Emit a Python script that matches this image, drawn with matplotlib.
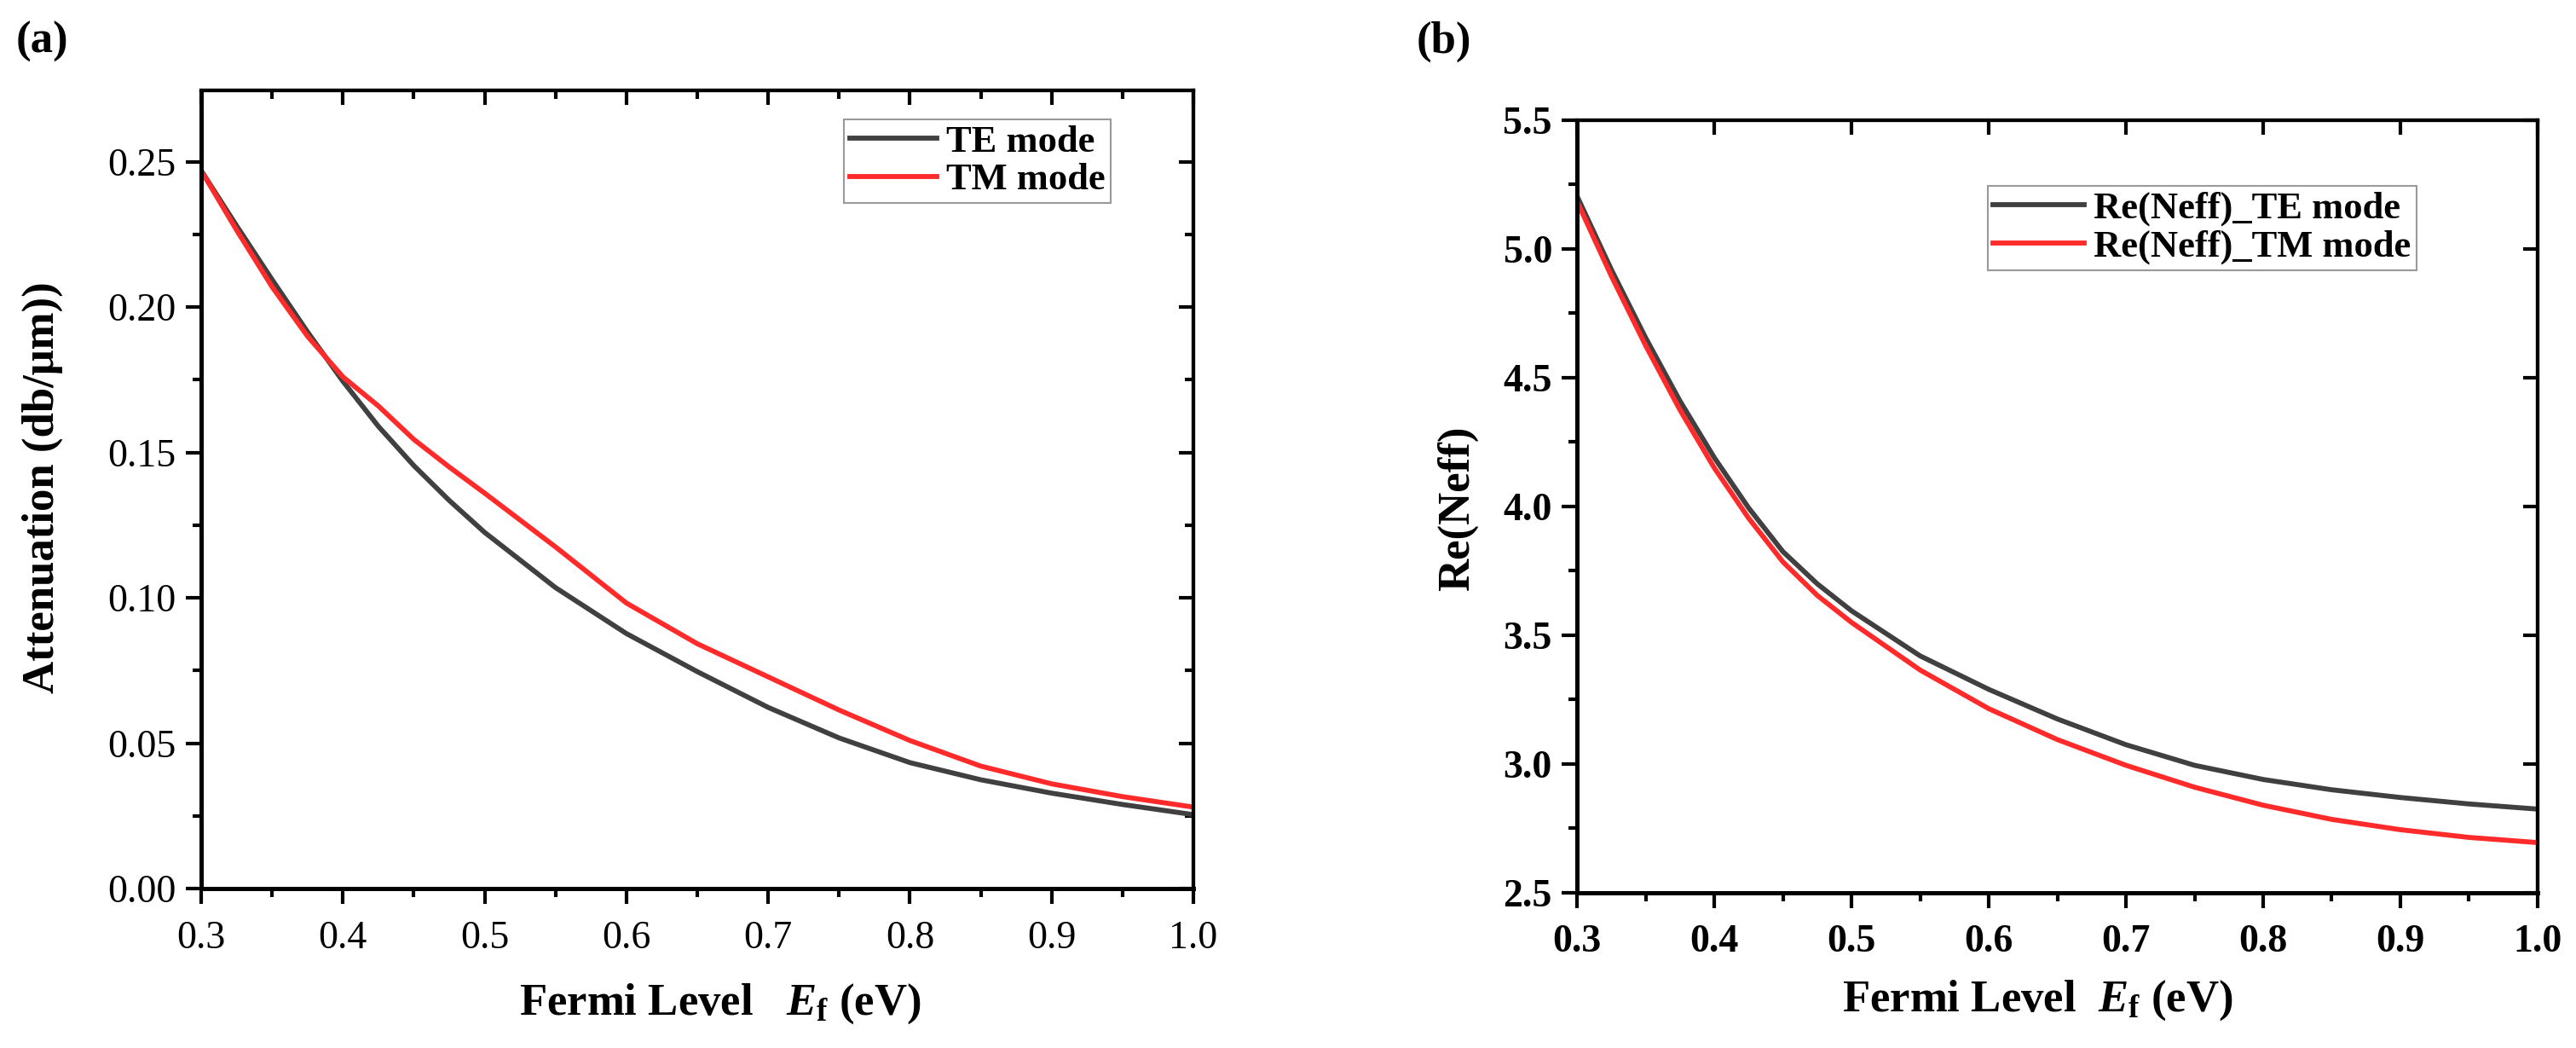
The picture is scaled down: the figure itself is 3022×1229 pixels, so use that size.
import matplotlib
matplotlib.use("Agg")
import matplotlib.pyplot as plt
from matplotlib.ticker import MultipleLocator, FormatStrFormatter

plt.rcParams['font.family'] = ['Liberation Serif', 'DejaVu Serif']
plt.rcParams['mathtext.fontset'] = 'custom'
plt.rcParams['mathtext.it'] = 'Liberation Serif:italic:bold'
plt.rcParams['mathtext.bf'] = 'Liberation Serif:bold'
plt.rcParams['mathtext.rm'] = 'Liberation Serif:bold'

# Fermi level (eV)
fermi = [0.3, 0.325, 0.35, 0.375, 0.4, 0.425, 0.45, 0.475, 0.5, 0.55, 0.6,
         0.65, 0.7, 0.75, 0.8, 0.85, 0.9, 0.95, 1.0]

# (a) attenuation (db/um)
att_te = [0.247, 0.228, 0.2095, 0.1915, 0.1745, 0.159, 0.1455, 0.1335, 0.1225, 0.1035, 0.0877,
          0.0746, 0.0623, 0.0518, 0.0433, 0.0374, 0.0328, 0.0289, 0.0254]
att_tm = [0.247, 0.2265, 0.207, 0.19, 0.176, 0.166, 0.1545, 0.145, 0.136, 0.1175, 0.0982,
          0.0842, 0.0728, 0.0614, 0.0509, 0.0421, 0.036, 0.0316, 0.028]

# (b) Re(Neff)
neff_te = [5.205, 4.92, 4.655, 4.41, 4.19, 3.995, 3.825, 3.70, 3.595, 3.42, 3.29,
           3.175, 3.075, 2.995, 2.94, 2.90, 2.87, 2.845, 2.825]
neff_tm = [5.185, 4.895, 4.625, 4.375, 4.15, 3.955, 3.785, 3.655, 3.55, 3.365, 3.215,
           3.095, 2.995, 2.91, 2.84, 2.785, 2.745, 2.715, 2.695]

TE_COLOR = '#404040'
TM_COLOR = '#ff2b2b'

fig = plt.figure(figsize=(30.22, 12.29), dpi=100)
ax1 = fig.add_axes([0.0781, 0.1522, 0.3852, 0.7616])
ax2 = fig.add_axes([0.6122, 0.1481, 0.3729, 0.7372])


def style_axes(ax, ymaj, ymin, yfmt, bold_ticks, mirror_minor):
    ax.set_xlim(0.3, 1.0)
    ax.xaxis.set_major_locator(MultipleLocator(0.1))
    ax.xaxis.set_minor_locator(MultipleLocator(0.05))
    ax.xaxis.set_major_formatter(FormatStrFormatter('%.1f'))
    ax.yaxis.set_major_locator(MultipleLocator(ymaj))
    ax.yaxis.set_minor_locator(MultipleLocator(ymin))
    ax.yaxis.set_major_formatter(FormatStrFormatter(yfmt))
    for side in ['left', 'bottom']:
        ax.spines[side].set_linewidth(3.6)
    for side in ['top', 'right']:
        ax.spines[side].set_linewidth(3.0)
    ax.tick_params(which='major', direction='out', length=13, width=3, labelsize=33, pad=8)
    ax.tick_params(which='minor', direction='out', length=7, width=3)
    ax.tick_params(axis='x', which='major', pad=14)
    for lab in ax.get_xticklabels() + ax.get_yticklabels():
        lab.set_fontweight('bold' if bold_ticks else 'normal')

    # mirrored ticks pointing inward on top/right
    top = ax.secondary_xaxis('top')
    top.xaxis.set_major_locator(MultipleLocator(0.1))
    if mirror_minor:
        top.xaxis.set_minor_locator(MultipleLocator(0.05))
    top.tick_params(which='major', direction='in', length=12, width=3, labeltop=False)
    top.tick_params(which='minor', direction='in', length=7, width=3)
    top.spines['top'].set_linewidth(3.0)
    right = ax.secondary_yaxis('right')
    right.yaxis.set_major_locator(MultipleLocator(ymaj))
    if mirror_minor:
        right.yaxis.set_minor_locator(MultipleLocator(ymin))
    right.tick_params(which='major', direction='in', length=12, width=3, labelright=False)
    right.tick_params(which='minor', direction='in', length=7, width=3)
    right.spines['right'].set_linewidth(3.0)


# ---- panel (a)
ax1.plot(fermi, att_te, color=TE_COLOR, lw=4.2, label='TE mode')
ax1.plot(fermi, att_tm, color=TM_COLOR, lw=4.2, label='TM mode')
ax1.set_ylim(0, 0.2746)
style_axes(ax1, 0.05, 0.025, '%.2f', False, True)
ax1.set_ylabel('Attenuation (db/\u03bcm))', fontsize=38, fontweight='bold')
ax1.yaxis.set_label_coords(-0.16, 0.502)
ax1.set_xlabel(r'Fermi Level   $\mathit{E}_{\mathbf{f}}$ (eV)', fontsize=38, fontweight='bold')
ax1.xaxis.set_label_coords(0.523, -0.145)
ax1.xaxis.label.set_va('center')
ax1.yaxis.label.set_va('center')
leg1 = ax1.legend(loc='upper right', bbox_to_anchor=(0.9167, 0.9637), borderaxespad=0,
                  prop={'family': 'Liberation Serif', 'weight': 'bold', 'size': 32},
                  fancybox=False, edgecolor='#808080', handlelength=2.3,
                  handletextpad=0.25, labelspacing=0.1, borderpad=0.15)
leg1.get_frame().set_linewidth(1.5)
fig.text(0.006, 0.98, '(a)', fontsize=38, fontweight='bold', ha='left', va='top')

# ---- panel (b)
ax2.plot(fermi, neff_te, color=TE_COLOR, lw=4.2, label='Re(Neff)_TE mode')
ax2.plot(fermi, neff_tm, color=TM_COLOR, lw=4.2, label='Re(Neff)_TM mode')
ax2.set_ylim(2.5, 5.5)
style_axes(ax2, 0.5, 0.25, '%.1f', True, False)
ax2.set_ylabel('Re(Neff)', fontsize=38, fontweight='bold')
ax2.yaxis.set_label_coords(-0.124, 0.498)
ax2.set_xlabel(r'Fermi Level  $\mathit{E}_{\mathbf{f}}$ (eV)', fontsize=38, fontweight='bold')
ax2.xaxis.set_label_coords(0.479, -0.139)
ax2.xaxis.label.set_va('center')
ax2.yaxis.label.set_va('center')
leg2 = ax2.legend(loc='upper right', bbox_to_anchor=(0.874, 0.915), borderaxespad=0,
                  prop={'family': 'Liberation Serif', 'weight': 'bold', 'size': 32},
                  fancybox=False, edgecolor='#808080', handlelength=2.4,
                  handletextpad=0.25, labelspacing=0.1, borderpad=0.15)
leg2.get_frame().set_linewidth(1.5)
fig.text(0.550, 0.98, '(b)', fontsize=38, fontweight='bold', ha='left', va='top')

fig.savefig('out.png', dpi=100, facecolor='white')
